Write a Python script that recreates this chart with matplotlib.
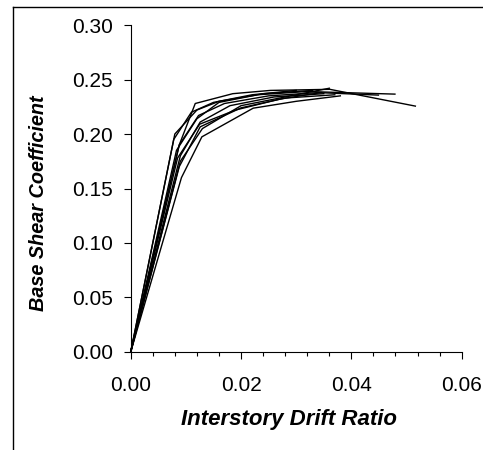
import numpy as np
import matplotlib
matplotlib.use("Agg")
import matplotlib.pyplot as plt
from matplotlib.lines import Line2D
from matplotlib.ticker import MultipleLocator, FormatStrFormatter

plt.rcParams["font.family"] = ["Liberation Sans", "DejaVu Sans"]

# interstory drift ratio / base shear coefficient, one pair per analysis run
drift_1 = [0, 0.0088, 0.0117, 0.0185, 0.0253, 0.0361, 0.0516]
shear_1 = [0, 0.190, 0.228, 0.237, 0.240, 0.241, 0.2256]
drift_2 = [0, 0.0080, 0.0120, 0.0160, 0.0230, 0.0320, 0.0479]
shear_2 = [0, 0.200, 0.222, 0.230, 0.236, 0.239, 0.2366]
drift_3 = [0, 0.0088, 0.0123, 0.0170, 0.0250, 0.0340, 0.0449]
shear_3 = [0, 0.190, 0.217, 0.228, 0.235, 0.238, 0.2357]
drift_4 = [0, 0.0090, 0.0126, 0.0180, 0.0260, 0.0350]
shear_4 = [0, 0.180, 0.211, 0.226, 0.234, 0.237]
drift_5 = [0, 0.0088, 0.0126, 0.0200, 0.0280, 0.0370]
shear_5 = [0, 0.170, 0.2066, 0.224, 0.233, 0.236]
drift_6 = [0, 0.0092, 0.0129, 0.0222, 0.0300, 0.0380]
shear_6 = [0, 0.160, 0.1974, 0.2237, 0.230, 0.235]
drift_7 = [0, 0.0078, 0.0110, 0.0150, 0.0220, 0.0300]
shear_7 = [0, 0.195, 0.220, 0.229, 0.236, 0.240]
drift_8 = [0, 0.0090, 0.0130, 0.0200, 0.0300, 0.0360]
shear_8 = [0, 0.175, 0.205, 0.226, 0.236, 0.242]
drift_9 = [0, 0.0083, 0.0120, 0.0160, 0.0240, 0.0330]
shear_9 = [0, 0.185, 0.214, 0.229, 0.237, 0.240]
drift_10 = [0, 0.0085, 0.0125, 0.0190, 0.0270, 0.0345]
shear_10 = [0, 0.178, 0.209, 0.222, 0.232, 0.238]

curves = [
    (drift_1, shear_1),
    (drift_2, shear_2),
    (drift_3, shear_3),
    (drift_4, shear_4),
    (drift_5, shear_5),
    (drift_6, shear_6),
    (drift_7, shear_7),
    (drift_8, shear_8),
    (drift_9, shear_9),
    (drift_10, shear_10),
]

fig = plt.figure(figsize=(4.83, 4.5), dpi=100)
ax = fig.add_axes([0.2706, 0.2178, 0.6853, 0.7266])

for d, s in curves:
    ax.plot(d, s, color="black", linewidth=1.0, clip_on=False)

ax.set_xlim(0, 0.06)
ax.set_ylim(0, 0.30)
ax.xaxis.set_major_locator(MultipleLocator(0.02))
ax.xaxis.set_minor_locator(MultipleLocator(0.004))
ax.yaxis.set_major_locator(MultipleLocator(0.05))
ax.xaxis.set_major_formatter(FormatStrFormatter("%.2f"))
ax.yaxis.set_major_formatter(FormatStrFormatter("%.2f"))

for side in ["top", "right"]:
    ax.spines[side].set_visible(False)
for side in ["left", "bottom"]:
    ax.spines[side].set_linewidth(0.8)

ax.tick_params(axis="x", which="major", direction="out", length=5, width=0.8,
               pad=12, labelsize=15)
ax.tick_params(axis="x", which="minor", direction="out", length=3, width=0.8)
ax.tick_params(axis="y", which="major", direction="out", length=5, width=0.8,
               pad=8, labelsize=15)

ax.set_xlabel("Interstory Drift Ratio", fontsize=16, fontweight="bold",
              fontstyle="italic")
ax.set_ylabel("Base Shear Coefficient", fontsize=14.3, fontweight="bold",
              fontstyle="italic")
ax.xaxis.set_label_coords(0.4776, -0.205)
ax.xaxis.label.set_verticalalignment("center")
ax.yaxis.set_label_coords(-0.28, 0.454)
ax.yaxis.label.set_verticalalignment("center")

# chart-area frame, only its left and top edges fall inside the image
x0 = 12.5 / 483
y0 = 1 - 7.0 / 450
fig.add_artist(Line2D([x0, x0], [0, y0], transform=fig.transFigure,
                      color="black", linewidth=1.0))
fig.add_artist(Line2D([x0, 1], [y0, y0], transform=fig.transFigure,
                      color="black", linewidth=1.0))

fig.savefig("out.png", dpi=100)
